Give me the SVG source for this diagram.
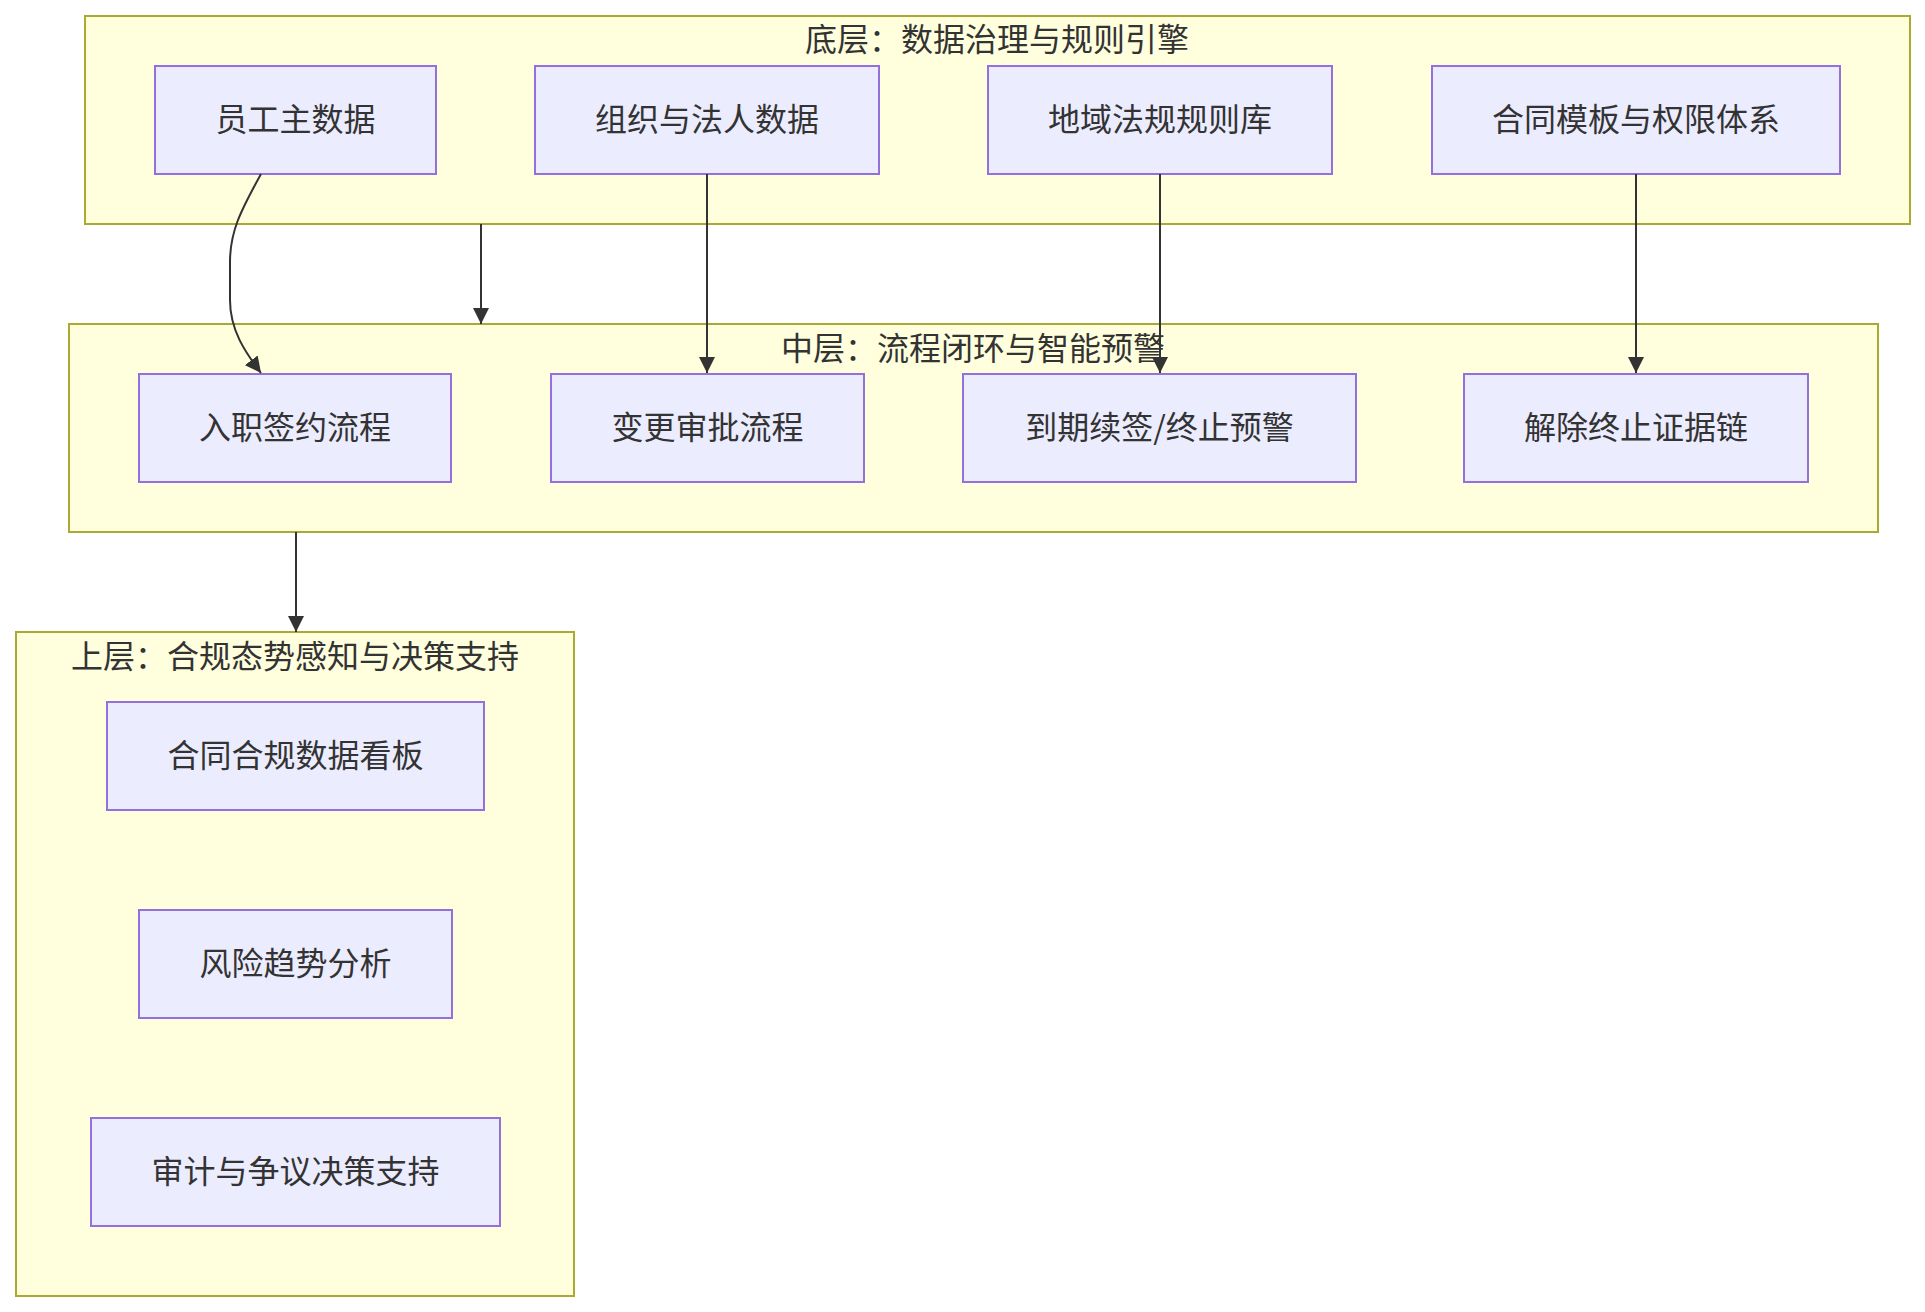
<svg xmlns="http://www.w3.org/2000/svg" width="1925" height="1312" viewBox="0 0 1925 1312">
<style>
.cluster{fill:#ffffde;stroke:#aaaa33;stroke-width:2}
.node rect{fill:#ececff;stroke:#9370db;stroke-width:2}
text{font-family:"Noto Sans CJK SC","Noto Sans",sans-serif;font-size:32px;fill:#333333;text-anchor:middle;dominant-baseline:central}
.edge{fill:none;stroke:#333333;stroke-width:2}
</style>
<defs>
<marker id="arrow" viewBox="0 0 10 10" refX="10" refY="5" markerUnits="userSpaceOnUse" markerWidth="16" markerHeight="16" orient="auto">
<path d="M0,0 L10,5 L0,10 z" fill="#333333"/>
</marker>
</defs>
<g id="cluster-bottom">
<rect class="cluster" x="85" y="16" width="1825" height="208"/>
<text x="997" y="37">底层：数据治理与规则引擎</text>
</g>
<g id="cluster-middle">
<rect class="cluster" x="69" y="324" width="1809" height="208"/>
<text x="973" y="346">中层：流程闭环与智能预警</text>
</g>
<g id="cluster-top">
<rect class="cluster" x="16" y="632" width="558" height="664"/>
<text x="295" y="654">上层：合规态势感知与决策支持</text>
</g>
<g id="n-employee" class="node"><rect x="155" y="66" width="281" height="108"/><text x="295.5" y="117">员工主数据</text></g>
<g id="n-org" class="node"><rect x="535" y="66" width="344" height="108"/><text x="707" y="117">组织与法人数据</text></g>
<g id="n-rules" class="node"><rect x="988" y="66" width="344" height="108"/><text x="1160" y="117">地域法规规则库</text></g>
<g id="n-template" class="node"><rect x="1432" y="66" width="408" height="108"/><text x="1636" y="117">合同模板与权限体系</text></g>
<g id="n-onboard" class="node"><rect x="139" y="374" width="312" height="108"/><text x="295" y="425">入职签约流程</text></g>
<g id="n-change" class="node"><rect x="551" y="374" width="313" height="108"/><text x="707.5" y="425">变更审批流程</text></g>
<g id="n-expire" class="node"><rect x="963" y="374" width="393" height="108"/><text x="1159.5" y="425">到期续签/终止预警</text></g>
<g id="n-terminate" class="node"><rect x="1464" y="374" width="344" height="108"/><text x="1636" y="425">解除终止证据链</text></g>
<g id="n-dashboard" class="node"><rect x="107" y="702" width="377" height="108"/><text x="295.5" y="753">合同合规数据看板</text></g>
<g id="n-trend" class="node"><rect x="139" y="910" width="313" height="108"/><text x="295.5" y="961">风险趋势分析</text></g>
<g id="n-audit" class="node"><rect x="91" y="1118" width="409" height="108"/><text x="295.5" y="1169">审计与争议决策支持</text></g>
<g id="connectors">
<path class="edge" d="M261,174 C240,212 230,232 230,262 L230,300 C230,330 245,352 261,373" marker-end="url(#arrow)"/>
<path class="edge" d="M481,224 L481,324" marker-end="url(#arrow)"/>
<path class="edge" d="M707,174 L707,373" marker-end="url(#arrow)"/>
<path class="edge" d="M1160,174 L1160,373" marker-end="url(#arrow)"/>
<path class="edge" d="M1636,174 L1636,373" marker-end="url(#arrow)"/>
<path class="edge" d="M296,532 L296,632" marker-end="url(#arrow)"/>
</g>
</svg>
